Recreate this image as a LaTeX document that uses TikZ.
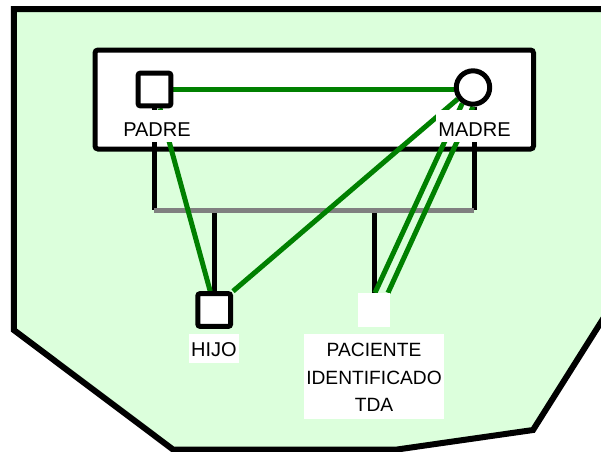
\documentclass[tikz,border=0pt]{standalone}
\usepackage{fontspec}
\setmainfont{Liberation Sans}
\usetikzlibrary{calc,backgrounds}
\definecolor{bgfill}{RGB}{220,255,220}
\definecolor{relgreen}{RGB}{0,128,0}
\definecolor{sibgray}{RGB}{128,128,128}
\begin{document}
\begin{tikzpicture}[x=1pt,y=-1pt,
  male/.style={draw=black, line width=5pt, fill=white, rectangle, rounded corners=2pt, minimum size=32.6pt, inner sep=0pt},
  female/.style={draw=black, line width=5pt, fill=white, circle, minimum size=33.4pt, inner sep=0pt},
  patient/.style={fill=white, rectangle, minimum width=32pt, minimum height=34pt, inner sep=0pt},
  lbl/.style={fill=white, inner xsep=2pt, inner ysep=0pt, font=\fontsize{20}{28}\selectfont, text height=26pt, text depth=6pt},
  kin/.style={black, line width=5pt},
  rel/.style={relgreen, line width=5pt},
  sib/.style={sibgray, line width=5pt},
  couplebox/.style={draw=black, line width=5pt, fill=white, rounded corners=3pt, inner sep=0pt},
  frame/.style={draw=black, fill=bgfill, line width=6pt}
]
\useasboundingbox (0,0) rectangle (601,451);
\clip (0,0) rectangle (601,451);

% person symbols
\node[male] (padre) at (154.5,89.5) {};
\node[female] (madre) at (473,87.5) {};
\node[male] (hijo) at (214.2,310) {};
\node[patient] (paciente) at (374,310) {};

% labels
\node[lbl, anchor=base] (padrelbl) at (157,136) {PADRE};
\node[lbl, anchor=base] (madrelbl) at (474.5,136) {MADRE};
\node[lbl, anchor=base, text height=22pt, text depth=7pt] (hijolbl) at (214,356) {HIJO};
\node[fill=white, anchor=north, inner xsep=0pt, inner ysep=0pt, minimum width=140pt, align=center,
      font=\fontsize{19.2}{27.8}\selectfont] (pacientelbl) at (374,334)
      {\rule{0pt}{22pt}PACIENTE\\IDENTIFICADO\\TDA\rule[-7pt]{0pt}{7pt}};

\coordinate (jl) at (155,210);

\begin{pgfonlayer}{background}
  \draw[frame] (13.8,9.2) -- (620,9.2) -- (620,292) -- (533,430) -- (397,449.5) -- (173,449.5) -- (13.8,330) -- cycle;
  \node[couplebox, minimum width=438.5pt, minimum height=99pt] (pareja) at (314.25,99.5) {};
  % kinship lines
  \draw[kin] (padre.south) -- (padre.south |- jl);
  \draw[kin] ([xshift=1pt]madre.south) -- ([xshift=1pt]madre.south |- jl);
  \draw[kin] (hijo.north |- jl) -- (hijo.north);
  \draw[kin] (paciente.north |- jl) -- (paciente.north);
  \draw[sib] ([xshift=-0.5pt]padre.south |- jl) -- ([xshift=1pt]madre.south |- jl);
  % relationship lines
  \draw[rel] (padre.east) -- (padre.east -| madre.west);
  \draw[rel] ([xshift=5.5pt]padre.south) -- ([xshift=-4pt]hijo.north);
  \draw[rel] (madre.217) -- (hijo.north east);
  \draw[rel] (madre.236) -- ([xshift=1pt]paciente.north);
  \draw[rel] (madre.south) -- ([xshift=14pt]paciente.north);
\end{pgfonlayer}
\end{tikzpicture}
\end{document}
